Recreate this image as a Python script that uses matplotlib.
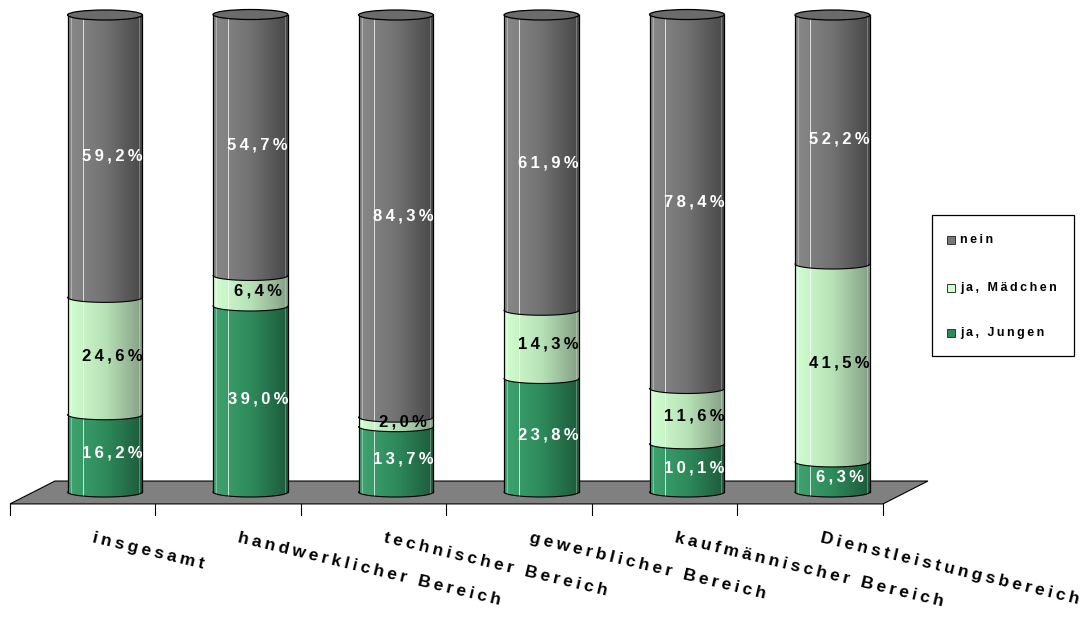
import numpy as np
import matplotlib
matplotlib.use("Agg")
import matplotlib.pyplot as plt
from matplotlib.patches import Polygon, Ellipse, PathPatch, Rectangle
from matplotlib.path import Path
from matplotlib.colors import LinearSegmentedColormap

# --- data -------------------------------------------------------------
categories = ["insgesamt", "handwerklicher Bereich", "technischer Bereich",
              "gewerblicher Bereich", "kaufmännischer Bereich",
              "Dienstleistungsbereich"]
ja_jungen = [16.2, 39.0, 13.7, 23.8, 10.1, 6.3]
ja_maedchen = [24.6, 6.4, 2.0, 14.3, 11.6, 41.5]
nein = [59.2, 54.7, 84.3, 61.9, 78.4, 52.2]
series_names = ["ja, Jungen", "ja, Mädchen", "nein"]

# --- styling ----------------------------------------------------------
BOLD = dict(family=["Liberation Sans", "DejaVu Sans"], fontweight="bold")
gradients = {
    "ja, Jungen": ("#3fa571", "#2e8a5b", "#1d5a3b"),
    "ja, Mädchen": ("#d2ffd2", "#b7e2b7", "#859f85"),
    "nein": ("#8a8a8a", "#727272", "#474747"),
}
swatch = {"ja, Jungen": "#2e8b57", "ja, Mädchen": "#ccffcc", "nein": "#777777"}
label_color = {"ja, Jungen": "white", "ja, Mädchen": "black", "nein": "white"}


def spaced(s, gap="\u2009"):
    return gap.join(s)


def pct(v):
    return f"{v:.1f}".replace(".", ",") + "%"


W_PX, H_PX = 1085, 617
fig = plt.figure(figsize=(W_PX / 100, H_PX / 100), dpi=100)
ax = fig.add_axes([0, 0, 1, 1])
ax.set_axis_off()

# value axis: 0..100 %, categories at integer positions
px_per_cat = 145.5
px_per_pct = 4.77
x_origin_px, y_origin_px = 105.0, 492.0
ax.set_xlim(-x_origin_px / px_per_cat, (W_PX - x_origin_px) / px_per_cat)
ax.set_ylim(-(H_PX - y_origin_px) / px_per_pct, y_origin_px / px_per_pct)
ax.set_autoscale_on(False)

n = len(categories)
xpos = np.arange(n)
bar_w = 0.515
a = bar_w / 2          # ellipse half width (data x)
b = 1.05               # ellipse half height (data y)
depth_dx, front_y, back_y = -0.153, -2.5, 2.3
back_dx = 0.156

# floor
floor = Polygon([(-0.5 + depth_dx, front_y), (n - 0.5 + depth_dx, front_y),
                 (n - 0.5 + back_dx, back_y), (-0.5 + back_dx, back_y)],
                closed=True, facecolor="#808080", edgecolor="black",
                linewidth=0.8, zorder=1)
ax.add_patch(floor)
for k in range(n + 1):
    ax.plot([k - 0.5 + depth_dx] * 2, [front_y, front_y - 2.4],
            color="black", lw=0.8, zorder=1)

t = np.linspace(0, np.pi, 60)
grad = np.linspace(0, 1, 256).reshape(1, -1)


def body_path(xc, y0, y1):
    xs = xc - a * np.cos(t)
    ys = y0 - b * np.sin(t)
    verts = list(zip(xs, ys)) + [(xc + a, y1), (xc - a, y1), (xs[0], ys[0])]
    codes = [Path.MOVETO] + [Path.LINETO] * (len(verts) - 2) + [Path.CLOSEPOLY]
    return Path(verts, codes)


stack = {"ja, Jungen": ja_jungen, "ja, Mädchen": ja_maedchen, "nein": nein}
for i, xc in enumerate(xpos):
    bottom = 0.0
    bounds = [0.0]
    for name in series_names:
        v = stack[name][i]
        y0, y1 = bottom, bottom + v
        cmap = LinearSegmentedColormap.from_list(name, gradients[name])
        patch = PathPatch(body_path(xc, y0, y1), facecolor="none",
                          edgecolor="none", zorder=3)
        ax.add_patch(patch)
        im = ax.imshow(grad, cmap=cmap, aspect="auto", origin="lower",
                       extent=[xc - a, xc + a, y0 - b, y1], zorder=3,
                       interpolation="bilinear")
        im.set_clip_path(patch)
        bottom = y1
        bounds.append(y1)
    top = bottom
    # highlight streaks
    for frac, alpha in ((0.2, 0.75), (0.04, 0.35), (0.96, 0.3)):
        xh = xc - a + frac * bar_w
        s = np.sqrt(max(0.0, 1 - ((xh - xc) / a) ** 2))
        ax.plot([xh, xh], [-b * s, top - b * s], color="white",
                lw=0.7, alpha=alpha, zorder=4)
    # outlines: sides, boundary arcs, top cap
    ax.plot([xc - a, xc - a], [0, top], color="black", lw=0.9, zorder=5)
    ax.plot([xc + a, xc + a], [0, top], color="black", lw=0.9, zorder=5)
    for yb in bounds[:-1]:
        ax.plot(xc - a * np.cos(t), yb - b * np.sin(t), color="black",
                lw=0.8, zorder=5)
    ax.add_patch(Ellipse((xc, top), 2 * a, 2 * b, facecolor="#6b6b6b",
                         edgecolor="black", lw=0.9, zorder=6))

    # value labels
    bottom = 0.0
    for name in series_names:
        v = stack[name][i]
        ax.text(xc + 0.05, bottom + v / 2, spaced(pct(v)),
                ha="center", va="center", fontsize=12,
                color=label_color[name], zorder=7, **BOLD)
        bottom += v

# category labels
for i, xc in enumerate(xpos):
    ax.text(xc + depth_dx + 0.062, -10.5, spaced(categories[i]),
            rotation=-13.5, rotation_mode="anchor", ha="left",
            va="baseline", fontsize=12.5, color="black", **BOLD)

# legend box (pixel layout converted to figure fraction)
def fx(px):
    return px / W_PX


def fy(py):
    return 1 - py / H_PX


fig.patches.append(Rectangle((fx(932), fy(356)), fx(1074) - fx(932),
                             fy(215) - fy(356), transform=fig.transFigure,
                             facecolor="white", edgecolor="black", lw=0.9))
for name, ypx in zip(["nein", "ja, Mädchen", "ja, Jungen"], [240, 288, 333]):
    fig.patches.append(Rectangle((fx(947), fy(ypx + 4)), fx(8), 8 / H_PX,
                                 transform=fig.transFigure,
                                 facecolor=swatch[name], edgecolor="#333333",
                                 lw=0.7))
    fig.text(fx(960), fy(ypx), spaced(name), ha="left", va="center",
             fontsize=9, color="black", **BOLD)

fig.savefig("out.png", dpi=100)
